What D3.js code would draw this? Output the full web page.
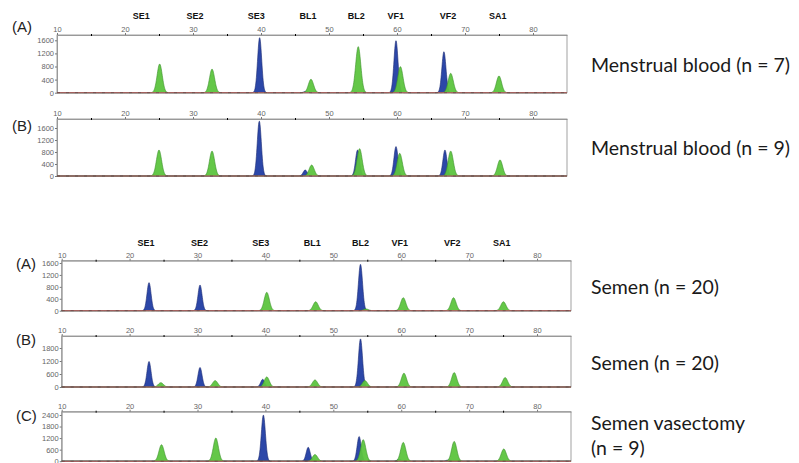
<!DOCTYPE html>
<html><head><meta charset="utf-8">
<script src="https://cdn.jsdelivr.net/npm/d3@7"></script>
<style>body{margin:0;background:#fff;} svg{display:block;}</style>
</head><body><svg id="c" width="799" height="463"></svg>
<script>
// ---- data ----
const markers = ["SE1","SE2","SE3","BL1","BL2","VF1","VF2","SA1"];
const markerPos = [22.4, 30.3, 39.3, 46.9, 54.0, 59.8, 67.5, 74.8];
const xTicks = [10,20,30,40,50,60,70,80];
const xMinor = [15,25,35,45,55,65,75];
const yTicks1600 = [0,400,800,1200,1600];
const yTicks2400 = [0,600,1200,1800,2400];
const yTicks1800 = [0,600,1200,1800];
const panelIds = ["(A)","(B)","(A)","(B)","(C)"];
const sampleLabels = ["Menstrual blood (n = 7)","Menstrual blood (n = 9)","Semen (n = 20)","Semen (n = 20)","Semen vasectomy","(n = 9)"];

// peaks: [size (x units), height (RFU)]
const mbA_blue  = [[39.8,1680],[59.85,1590],[66.9,1250],[46.6,40]];
const mbA_green = [[25.1,875],[32.8,720],[47.35,410],[54.3,1405],[60.5,795],[67.9,590],[75.0,510]];
const mbB_blue  = [[39.75,1830],[46.5,200],[54.2,865],[59.85,980],[67.05,865]];
const mbB_green = [[25.0,865],[32.8,830],[47.45,365],[54.5,910],[60.4,755],[67.9,830],[75.15,535]];
const smA_blue  = [[22.86,940],[30.37,860],[54.0,1555]];
const smA_green = [[40.2,615],[47.4,300],[54.8,60],[60.3,435],[67.7,435],[75.05,300]];
const smB_blue  = [[22.86,1175],[30.37,900],[39.6,355],[54.0,2220]];
const smB_green = [[24.6,200],[32.6,295],[40.2,465],[47.3,325],[54.65,295],[60.4,635],[67.8,665],[75.3,435]];
const vsC_blue  = [[39.7,2395],[46.3,720],[53.8,1280],[59.7,100],[66.9,60]];
const vsC_green = [[24.7,855],[32.7,1200],[47.3,345],[54.4,1115],[60.3,975],[67.8,1025],[75.1,635]];

// ---- layout ----
const svg = d3.select("#c");
const groups = [
  {x0:57, x1:567, markerY:19, labelX:12, panels:[
    {id:panelIds[0], labelY:32, top:35, base:92.7, yMax:1762, yTicks:yTicks1600, blue:mbA_blue, green:mbA_green},
    {id:panelIds[1], labelY:130.5, top:119, base:176, yMax:1900, yTicks:yTicks1600, blue:mbB_blue, green:mbB_green}
  ]},
  {x0:61.7, x1:571, markerY:246, labelX:16, panels:[
    {id:panelIds[2], labelY:268.5, top:260.7, base:310.7, yMax:1677, yTicks:yTicks1600, blue:smA_blue, green:smA_green},
    {id:panelIds[3], labelY:344.5, top:336, base:387, yMax:2354, yTicks:yTicks1800, blue:smB_blue, green:smB_green},
    {id:panelIds[4], labelY:420.5, top:411.7, base:461.2, yMax:2570, yTicks:yTicks2400, blue:vsC_blue, green:vsC_green}
  ]}
];
const rightLabelY = [72, 155, 294, 370, 430, 455];

const xs = d3.range(10, 85.0001, 0.04);
function profile(peaks, sigma){
  return xs.map(v => [v, d3.sum(peaks, p => p[1]*Math.exp(-((v-p[0])**2)/(2*sigma*sigma)))]);
}

groups.forEach(g => {
  const x = d3.scaleLinear().domain([10,85]).range([g.x0, g.x1]);
  // marker names
  svg.append("g").selectAll("text").data(markers).join("text")
    .attr("x",(d,i)=>x(markerPos[i])).attr("y",g.markerY)
    .attr("text-anchor","middle").attr("font-family","Liberation Sans, Arial, sans-serif")
    .attr("font-weight","bold").attr("font-size",9).attr("fill","#111").text(d=>d);

  g.panels.forEach(p => {
    const y = d3.scaleLinear().domain([0,p.yMax]).range([p.base, p.top]);
    const pg = svg.append("g");
    // frame
    pg.append("rect").attr("x",g.x0).attr("y",p.top).attr("width",g.x1-g.x0).attr("height",p.base-p.top)
      .attr("fill","none").attr("stroke","#8a8a8a").attr("stroke-width",0.8);
    // top axis
    const ax = pg.append("g").attr("transform",`translate(0,${p.top})`)
      .call(d3.axisTop(x).tickValues(xTicks).tickSizeInner(2).tickSizeOuter(0).tickPadding(1));
    pg.append("g").attr("transform",`translate(0,${p.top+1})`)
      .call(d3.axisTop(x).tickValues(xMinor).tickSizeInner(2).tickSizeOuter(0).tickFormat(""))
      .call(a=>a.select(".domain").remove());
    // left axis
    const ay = pg.append("g").attr("transform",`translate(${g.x0},0)`)
      .call(d3.axisLeft(y).tickValues(p.yTicks).tickFormat(d3.format("d")).tickSizeInner(2).tickSizeOuter(0).tickPadding(1));
    [ax, ay].forEach(a => {
      a.select(".domain").attr("stroke","#8a8a8a").attr("stroke-width",0.8);
      a.selectAll(".tick line").attr("stroke","#777");
      a.selectAll(".tick text").attr("font-family","Liberation Sans, Arial, sans-serif")
        .attr("font-size",7.5).attr("fill","#666");
    });
    // panel id
    pg.append("text").attr("x",g.labelX).attr("y",p.labelY)
      .attr("font-family","Liberation Sans, Arial, sans-serif").attr("font-size",15).attr("fill","#222")
      .text(p.id);
    // traces
    const area = d3.area().x(d=>x(d[0])).y0(y(0)).y1(d=>y(d[1]));
    pg.append("path").datum(profile(p.blue,0.3)).attr("d",area)
      .attr("fill","#2c47a8").attr("stroke","#1b2a72").attr("stroke-width",0.6);
    pg.append("path").datum(profile(p.green,0.38)).attr("d",area)
      .attr("fill","#5cc43e").attr("fill-opacity",0.95).attr("stroke","#3b8f2a").attr("stroke-width",0.6);
    // baseline
    pg.append("line").attr("x1",g.x0).attr("x2",g.x1).attr("y1",y(0)).attr("y2",y(0))
      .attr("stroke","#c45a66").attr("stroke-width",1.1);
    pg.append("line").attr("x1",g.x0).attr("x2",g.x1).attr("y1",y(0)).attr("y2",y(0))
      .attr("stroke","#333").attr("stroke-width",0.8).attr("stroke-dasharray","3,6").attr("opacity",0.5);
  });
});

// sample labels
svg.append("g").selectAll("text").data(sampleLabels).join("text")
  .attr("x",591).attr("y",(d,i)=>rightLabelY[i])
  .attr("font-family","Lato, 'Open Sans', sans-serif").attr("font-size",19.5).attr("fill","#1a1a1a")
  .text(d=>d);
</script></body></html>
